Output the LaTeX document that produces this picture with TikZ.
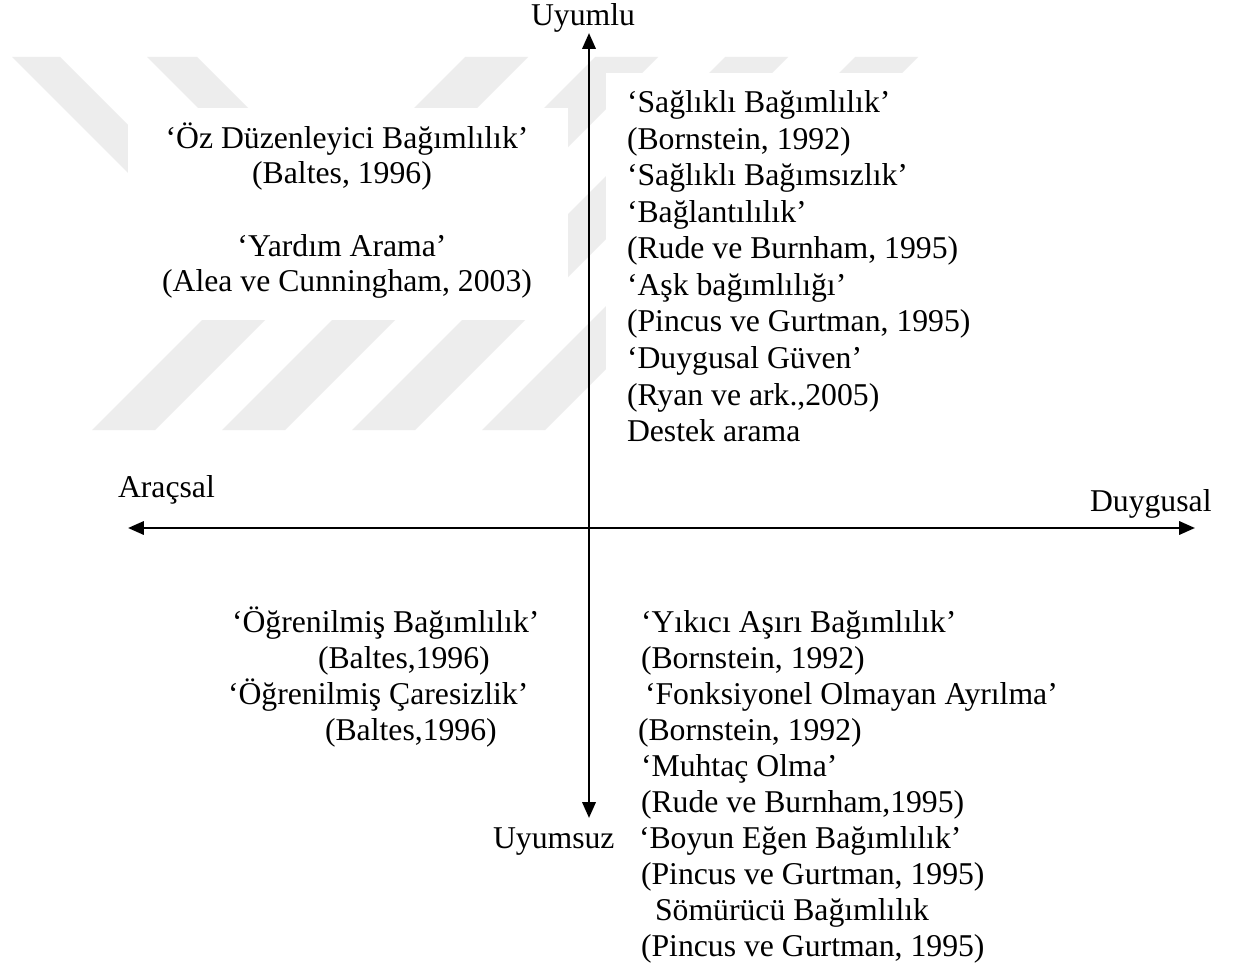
\documentclass[tikz,border=0pt]{standalone}
\usepackage{fontspec}
\setmainfont{Liberation Serif}
\usetikzlibrary{arrows.meta}
\definecolor{wmgray}{RGB}{237,237,237}
\tikzset{
  txt/.style={inner sep=0pt, outer sep=0pt, font=\fontsize{12pt}{14pt}\selectfont},
  lft/.style={txt, anchor=base west},
  ctr/.style={txt, anchor=base},
  axis/.style={line width=1pt, {Triangle[length=6pt,width=5pt]}-{Triangle[length=6pt,width=5pt]}},
  wm/.style={fill=wmgray, draw=none},
  cover/.style={fill=white, draw=none}
}
\begin{document}
\begin{tikzpicture}[x=0.3784pt, y=-0.3784pt]
\useasboundingbox[fill=white] (0,0) rectangle (1241,972);
% watermark
\fill[wm] (12,57) -- (60,57) -- (178,175) -- (130,175) -- cycle;
\fill[wm] (147,57) -- (197,57) -- (315,175) -- (265,175) -- cycle;
\foreach \t in {465,595,725,855}{
  \fill[wm] (\t,57) -- ({\t+63},57) -- ({\t+63-373},430) -- ({\t-373},430) -- cycle;
}
% white text boxes
\fill[cover] (128,108) rectangle (568,320);
\fill[cover] (606,73) rectangle (1010,470);
% axes
\coordinate (L) at (128,528);
\coordinate (R) at (1195,528);
\coordinate (T) at (589,33);
\coordinate (B) at (589,818);
\draw[axis] (L) -- (R);
\draw[axis] (B) -- (T);
% axis labels
\node[ctr] (uyumlu) at (583,26) {Uyumlu};
\node[lft] (aracsal) at (118,497) {Araçsal};
\node[lft] (duygusal) at (1090,511) {Duygusal};
\node[lft] (uyumsuz) at (493,848) {Uyumsuz};
% upper left
\node[ctr] (ul1) at (347,149) {‘Öz Düzenleyici Bağımlılık’};
\node[ctr] (ul2) at (342,184) {(Baltes, 1996)};
\node[ctr] (ul3) at (342,257) {‘Yardım Arama’};
\node[ctr] (ul4) at (347,292) {(Alea ve Cunningham, 2003)};
% upper right
\node[lft] (ur1) at (627,113) {‘Sağlıklı Bağımlılık’};
\node[lft] (ur2) at (627,149.5) {(Bornstein, 1992)};
\node[lft] (ur3) at (627,186) {‘Sağlıklı Bağımsızlık’};
\node[lft] (ur4) at (627,222.5) {‘Bağlantılılık’};
\node[lft] (ur5) at (627,259) {(Rude ve Burnham, 1995)};
\node[lft] (ur6) at (627,295.5) {‘Aşk bağımlılığı’};
\node[lft] (ur7) at (627,332) {(Pincus ve Gurtman, 1995)};
\node[lft] (ur8) at (627,368.5) {‘Duygusal Güven’};
\node[lft] (ur9) at (627,405) {(Ryan ve ark.,2005)};
\node[lft] (ur10) at (627,441.5) {Destek arama};
% lower left
\node[lft] (ll1) at (232,632) {‘Öğrenilmiş Bağımlılık’};
\node[lft] (ll2) at (318,668) {(Baltes,1996)};
\node[lft] (ll3) at (228,704) {‘Öğrenilmiş Çaresizlik’};
\node[lft] (ll4) at (325,740) {(Baltes,1996)};
% lower right
\node[lft] (lr1) at (641,632) {‘Yıkıcı Aşırı Bağımlılık’};
\node[lft] (lr2) at (641,668) {(Bornstein, 1992)};
\node[lft] (lr3) at (645,704) {‘Fonksiyonel Olmayan Ayrılma’};
\node[lft] (lr4) at (638,740) {(Bornstein, 1992)};
\node[lft] (lr5) at (641,776) {‘Muhtaç Olma’};
\node[lft] (lr6) at (641,812) {(Rude ve Burnham,1995)};
\node[lft] (lr7) at (639,848) {‘Boyun Eğen Bağımlılık’};
\node[lft] (lr8) at (641,884) {(Pincus ve Gurtman, 1995)};
\node[lft] (lr9) at (655,920) {Sömürücü Bağımlılık};
\node[lft] (lr10) at (641,956) {(Pincus ve Gurtman, 1995)};
\end{tikzpicture}
\end{document}
